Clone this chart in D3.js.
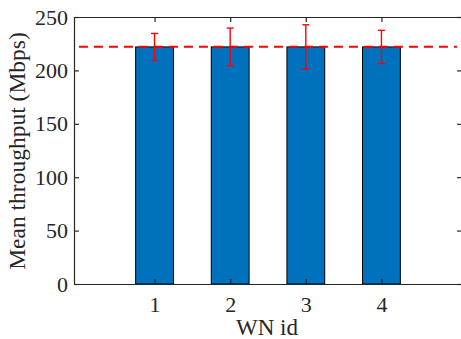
<!DOCTYPE html>
<html>
<head>
<meta charset="utf-8">
<script src="https://cdn.jsdelivr.net/npm/d3@7"></script>
<style>
  body { margin: 0; background: #fff; }
</style>
</head>
<body>
<div id="viz"></div>
<script>
// WN throughput data
var wnIds = [1, 2, 3, 4];
var meanThroughput = [222, 222, 222, 222];
var errThroughput = [12.6, 17.6, 20.7, 15.5];
var overallMean = 222.2;
var yTicks = [0, 50, 100, 150, 200, 250];

function throughputChart() {
  let width = 461, height = 339;
  let left = 74, right = 462, top = 17, bottom = 284;
  let serif = 'Liberation Serif';

  let svg = d3.select('#viz').append('svg')
    .attr('width', width)
    .attr('height', height);

  let xScale = d3.scaleLinear()
    .domain([-0.065, 5.065])
    .range([left, right]);

  let yScale = d3.scaleLinear()
    .domain([0, 250])
    .range([bottom, top]);

  let barW = xScale(0.5) - xScale(0);

  // bars
  svg.selectAll('.bar')
    .data(wnIds)
    .enter()
    .append('rect')
    .attr('class', 'bar')
    .attr('x', (d) => xScale(d) - barW / 2)
    .attr('y', (d, i) => yScale(meanThroughput[i]))
    .attr('width', barW)
    .attr('height', (d, i) => yScale(0) - yScale(meanThroughput[i]))
    .attr('fill', '#0072BD')
    .attr('stroke', '#000')
    .attr('stroke-width', 1);

  // axes, matlab style with inward ticks
  let axisColor = '#262626';
  svg.append('g')
    .attr('transform', `translate(0, ${bottom})`)
    .call(d3.axisBottom(xScale).tickValues(wnIds).tickSizeInner(-5).tickSizeOuter(0).tickPadding(12).tickFormat(d3.format('d')));
  svg.append('g')
    .attr('transform', `translate(0, ${top})`)
    .call(d3.axisTop(xScale).tickValues(wnIds).tickSizeInner(-5).tickSizeOuter(0).tickFormat(''));
  svg.append('g')
    .attr('transform', `translate(${left}, 0)`)
    .call(d3.axisLeft(yScale).tickValues(yTicks).tickSizeInner(-5).tickSizeOuter(0).tickPadding(6));
  svg.append('g')
    .attr('transform', `translate(${right}, 0)`)
    .call(d3.axisRight(yScale).tickValues(yTicks).tickSizeInner(-5).tickSizeOuter(0).tickFormat(''));

  svg.selectAll('g')
    .attr('font-family', serif)
    .attr('font-size', 22);
  svg.selectAll('.domain, .tick line')
    .attr('stroke', axisColor)
    .attr('stroke-width', 1.2);
  svg.selectAll('.tick text')
    .attr('fill', axisColor);

  // mean line
  svg.append('line')
    .attr('x1', xScale(0))
    .attr('x2', xScale(5))
    .attr('y1', yScale(overallMean))
    .attr('y2', yScale(overallMean))
    .attr('stroke', '#FF0000')
    .attr('stroke-width', 2)
    .attr('stroke-dasharray', '9,6');

  // error bars
  let errG = svg.selectAll('.err')
    .data(wnIds)
    .enter()
    .append('g')
    .attr('class', 'err')
    .attr('stroke', '#FF0000')
    .attr('stroke-width', 1.4);
  errG.append('line')
    .attr('x1', (d) => xScale(d))
    .attr('x2', (d) => xScale(d))
    .attr('y1', (d, i) => yScale(meanThroughput[i] - errThroughput[i]))
    .attr('y2', (d, i) => yScale(meanThroughput[i] + errThroughput[i]));
  [-1, 1].forEach((s) => {
    errG.append('line')
      .attr('x1', (d) => xScale(d) - 3.5)
      .attr('x2', (d) => xScale(d) + 3.5)
      .attr('y1', (d, i) => yScale(meanThroughput[i] + s * errThroughput[i]))
      .attr('y2', (d, i) => yScale(meanThroughput[i] + s * errThroughput[i]));
  });

  // labels
  svg.append('text')
    .attr('x', 267)
    .attr('y', 335)
    .attr('text-anchor', 'middle')
    .attr('font-family', serif)
    .attr('font-size', 23)
    .attr('fill', axisColor)
    .text('WN id');

  svg.append('text')
    .attr('transform', `translate(25, 151) rotate(-90)`)
    .attr('text-anchor', 'middle')
    .attr('font-family', serif)
    .attr('font-size', 23.5)
    .attr('fill', axisColor)
    .text('Mean throughput (Mbps)');
}

throughputChart();
</script>
</body>
</html>
